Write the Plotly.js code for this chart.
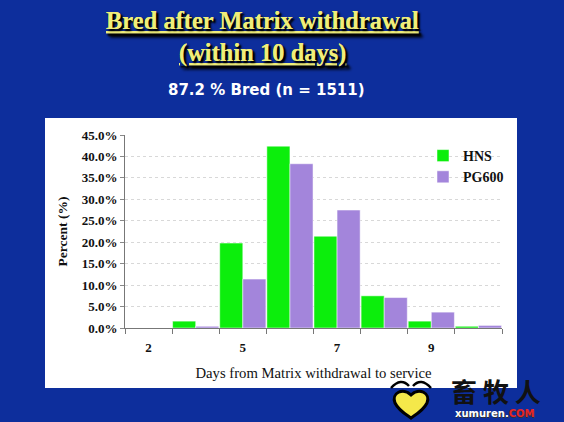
<!DOCTYPE html>
<html>
<head>
<meta charset="utf-8">
<script src="https://cdn.plot.ly/plotly-3.0.1.min.js"></script>
<style>html,body{margin:0;padding:0;background:#0d2e9c;}#chart{width:564px;height:422px;}</style>
</head>
<body>
<div id="chart"></div>
<script>
// Data
var days = [3, 4, 5, 6, 7, 8, 9, 10];
var hns = [0.0, 1.6, 19.8, 42.4, 21.4, 7.5, 1.6, 0.4];
var pg600 = [0.0, 0.4, 11.4, 38.3, 27.5, 7.1, 3.7, 0.6];
var tickVals = [3, 5, 7, 9];
var tickText = ["2", "5", "7", "9"];
var seriesNames = ["HNS", "PG600"];

var W = 564, H = 422;
var M = {l: 125, r: 62, t: 135, b: 94};
var pw = W - M.l - M.r, ph = H - M.t - M.b;
function px(x) { return (x - M.l) / pw; }
function py(y) { return (H - M.b - y) / ph; }

var serif = "Liberation Serif, Times New Roman, serif";

var traces = [
  {type: "bar", x: days, y: hns, name: seriesNames[0],
   marker: {color: "#0cee0c", line: {color: "#ffffff", width: 0.5}}},
  {type: "bar", x: days, y: pg600, name: seriesNames[1],
   marker: {color: "#a385db", line: {color: "#ffffff", width: 0.5}}}
];

var hx = 411, hy = 401; // heart logo centre (px)
function hp(dx, dy) { return px(hx + dx) + " " + py(hy + dy); }

var layout = {
  width: W, height: H,
  margin: M,
  paper_bgcolor: "#0d2e9c",
  plot_bgcolor: "#ffffff",
  barmode: "group",
  bargap: 0.02,
  bargroupgap: 0.0,
  font: {family: serif, color: "#111111"},
  showlegend: true,
  legend: {x: px(423), y: py(140), xanchor: "left", yanchor: "top",
           bgcolor: "rgba(0,0,0,0)", font: {family: serif, size: 14, color: "#111", weight: "bold"},
           itemwidth: 30, tracegroupgap: 0},
  xaxis: {
    range: [2.5, 10.5], tickvals: tickVals, ticktext: tickText,
    ticks: "", showgrid: false, zeroline: false,
    showline: true, linecolor: "#777777", linewidth: 1,
    ticklabelstandoff: 7,
    tickfont: {family: serif, size: 13, color: "#111", weight: "bold"},
    minor: {tickmode: "linear", tick0: 2.5, dtick: 1, ticks: "outside", ticklen: 5, tickcolor: "#777777", showgrid: false},
    title: {text: "Days from Matrix withdrawal to service", font: {family: serif, size: 14.7, color: "#111"}, standoff: 14}
  },
  yaxis: {
    range: [0, 45], dtick: 5, tickformat: ".1f", ticksuffix: "%",
    ticks: "outside", ticklen: 4, tickcolor: "#888888",
    showline: true, linecolor: "#777777", linewidth: 1,
    showgrid: true, gridcolor: "#d8d8d8", griddash: "dot", gridwidth: 1,
    zeroline: false,
    tickfont: {family: serif, size: 13, color: "#111", weight: "bold"},
    title: {text: "Percent (%)", font: {family: serif, size: 13.5, color: "#111", weight: "bold"}, standoff: 10}
  },
  shapes: [
    {type: "rect", xref: "paper", yref: "paper", layer: "below",
     x0: px(45), x1: px(517), y0: py(388), y1: py(118),
     fillcolor: "#ffffff", line: {width: 0}},
    // watermark heart logo
    {type: "path", xref: "paper", yref: "paper", layer: "above",
     path: "M " + hp(0, -6) + " C " + hp(-8, -14) + " " + hp(-20, -8) + " " + hp(-16, 2) +
           " C " + hp(-12, 10) + " " + hp(-4, 14) + " " + hp(0, 17) +
           " C " + hp(4, 14) + " " + hp(12, 10) + " " + hp(16, 2) +
           " C " + hp(20, -8) + " " + hp(8, -14) + " " + hp(0, -6) + " Z",
     fillcolor: "#f4e84a", line: {color: "#000000", width: 3}},
    {type: "path", xref: "paper", yref: "paper", layer: "above",
     path: "M " + hp(-20, -13) + " Q " + hp(-10, -24) + " " + hp(-2, -15),
     line: {color: "#000000", width: 2.5}},
    {type: "path", xref: "paper", yref: "paper", layer: "above",
     path: "M " + hp(2, -15) + " Q " + hp(10, -24) + " " + hp(20, -13),
     line: {color: "#000000", width: 2.5}}
  ],
  annotations: [
    {xref: "paper", yref: "paper", x: px(262), y: py(21), xanchor: "center", yanchor: "middle", showarrow: false,
     text: "<u>Bred after Matrix withdrawal</u>",
     font: {family: serif, size: 24.5, color: "#f0ee7a", weight: "bold", shadow: "2px 2px 2px #000000"}},
    {xref: "paper", yref: "paper", x: px(262), y: py(53), xanchor: "center", yanchor: "middle", showarrow: false,
     text: "<u>(within 10 days)</u>",
     font: {family: serif, size: 24.5, color: "#f0ee7a", weight: "bold", shadow: "2px 2px 2px #000000"}},
    {xref: "paper", yref: "paper", x: px(266), y: py(90), xanchor: "center", yanchor: "middle", showarrow: false,
     text: "87.2 % Bred (n = 1511)",
     font: {family: "DejaVu Sans, Verdana, sans-serif", size: 15, color: "#ffffff", weight: "bold"}},
    {xref: "paper", yref: "paper", x: px(496), y: py(390), xanchor: "center", yanchor: "middle", showarrow: false,
     text: "畜 牧 人",
     font: {family: "Noto Sans CJK SC", size: 26, color: "#111111", weight: "bold"}},
    {xref: "paper", yref: "paper", x: px(495), y: py(413), xanchor: "center", yanchor: "middle", showarrow: false,
     text: "xumuren.<span style='color:#e8242a'>COM</span>",
     font: {family: "DejaVu Sans, sans-serif", size: 10, color: "#ffffff", weight: "bold", shadow: "1px 1px 0px #333"}}
  ]
};

Plotly.newPlot("chart", traces, layout, {displayModeBar: false, staticPlot: true});
</script>
</body>
</html>
